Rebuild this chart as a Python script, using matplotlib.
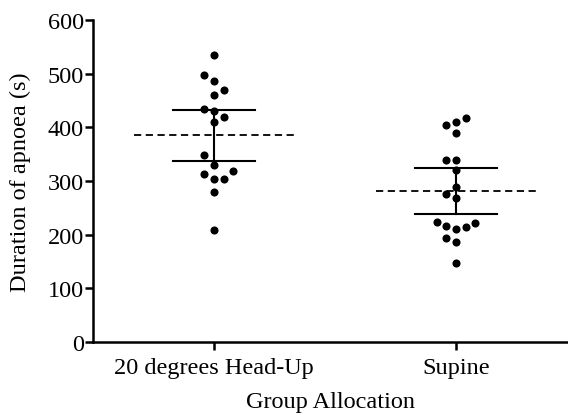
#!/usr/bin/env python3
"""Duration of apnoea by group allocation (scatter with mean and CI)."""

import matplotlib

matplotlib.use("Agg")
import matplotlib.pyplot as plt
import numpy as np

GROUPS = ["20 degrees Head-Up", "Supine"]

# apnoea durations (s)
HEAD_UP = [535, 498, 487, 470, 460, 435, 430, 420, 410,
           348, 330, 318, 314, 304, 304, 279, 208]
HEAD_UP_SLOT = [0, -1, 0, 1, 0, -1, 0, 1, 0,
                -1, 0, 2, -1, 0, 1, 0, 0]
SUPINE = [418, 410, 404, 389, 339, 339, 320, 288, 275,
          268, 224, 217, 210, 215, 222, 194, 187, 147]
SUPINE_SLOT = [1, 0, -1, 0, -1, 0, 0, 0, -1,
               0, -2, -1, 0, 1, 2, -1, 0, 0]

# interval bars drawn round the mean
HEAD_UP_CI = (338, 432)
SUPINE_CI = (239, 324)

plt.rcParams["font.family"] = ["Liberation Serif", "DejaVu Serif"]

fig = plt.figure(figsize=(5.68, 4.14), dpi=100)
ax = fig.add_axes([0.1637, 0.1715, 0.8363, 0.7775])

slot_step = 0.04
cap_half = 0.17
mean_half = 0.33
fs = 17.5

series = [(HEAD_UP, HEAD_UP_SLOT, HEAD_UP_CI), (SUPINE, SUPINE_SLOT, SUPINE_CI)]
for pos, (values, slots, ci) in enumerate(series, start=1):
    values = np.asarray(values, dtype=float)
    xs = pos + np.asarray(slots) * slot_step
    ax.scatter(xs, values, s=34, color="black", zorder=3, linewidths=0)
    mean = values.mean()
    ax.plot([pos - mean_half, pos + mean_half], [mean, mean], color="black",
            linewidth=1.3, linestyle=(0, (4, 2.5)), zorder=2)
    ax.plot([pos, pos], ci, color="black", linewidth=1.5, zorder=2)
    for end in ci:
        ax.plot([pos - cap_half, pos + cap_half], [end, end], color="black",
                linewidth=1.5, zorder=2)

ax.set_xlim(0.5, 2.463)
ax.set_ylim(0, 600)
ax.set_xticks([1, 2])
ax.set_xticklabels(GROUPS)
ax.set_yticks(range(0, 601, 100))
ax.spines["top"].set_visible(False)
ax.spines["right"].set_visible(False)
for side in ("left", "bottom"):
    ax.spines[side].set_linewidth(1.8)
ax.tick_params(axis="both", width=1.8, length=6, labelsize=fs, direction="out")
ax.tick_params(axis="y", pad=0.5)
ax.tick_params(axis="x", pad=5)
ax.set_xlabel("Group Allocation", fontsize=fs, labelpad=9)
ax.set_ylabel("Duration of apnoea (s)", fontsize=fs, labelpad=12)

fig.savefig("out.png", dpi=100)
